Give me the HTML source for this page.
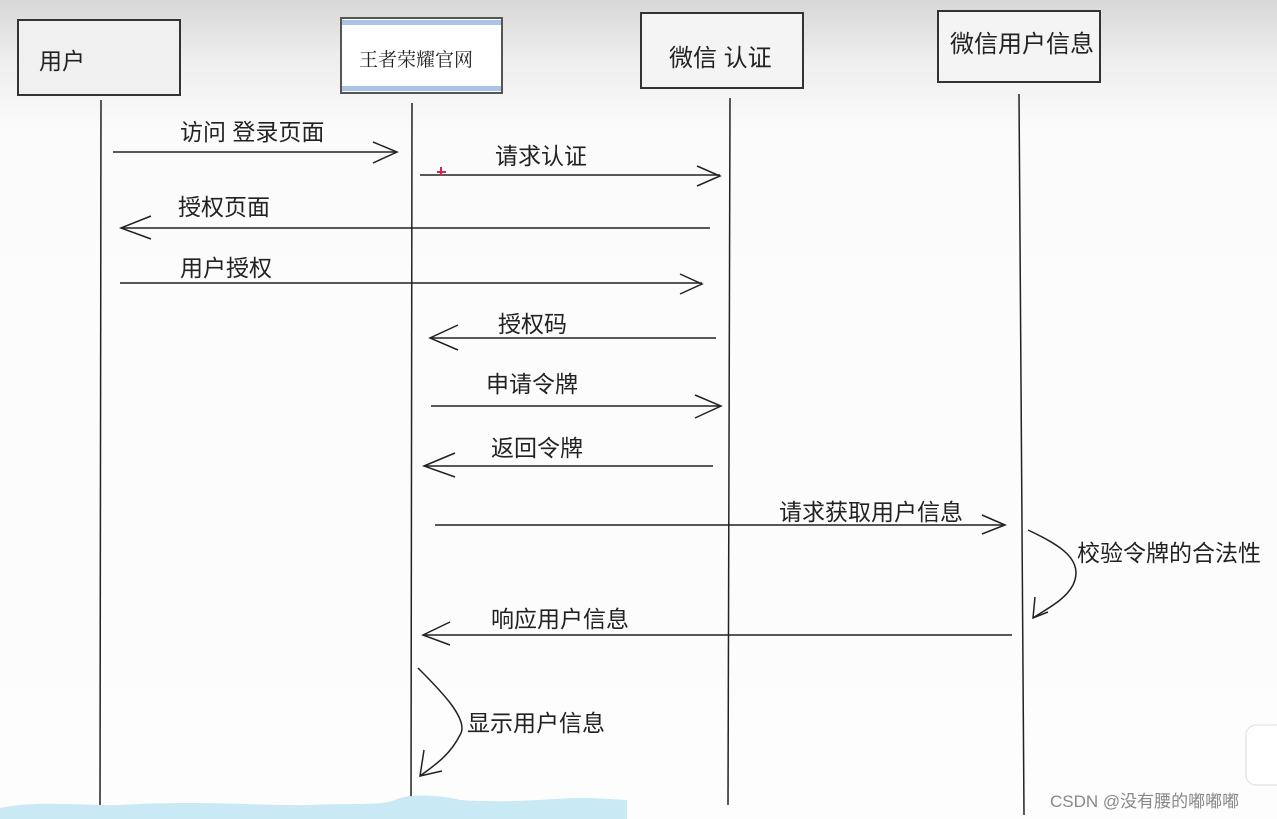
<!DOCTYPE html>
<html><head><meta charset="utf-8"><style>
html,body{margin:0;padding:0;}
body{width:1277px;height:819px;overflow:hidden;background:linear-gradient(#d6d7d6 0px,#eeeeee 60px,#fbfbfb 130px,#fdfdfd 819px);}
svg{position:absolute;left:0;top:0;}
text{font-family:"Liberation Sans","Noto Sans CJK SC",sans-serif;fill:#222;}
</style></head><body>
<svg width="1277" height="819" viewBox="0 0 1277 819">
<g stroke="#333" stroke-width="2" fill="none">
<rect x="18" y="20" width="162" height="75" fill="#f0f0f0"/>
<rect x="641" y="13" width="162" height="75" fill="#f4f4f4"/>
<rect x="938" y="11" width="162" height="71" fill="#f4f4f4"/>
</g>
<rect x="341" y="18" width="161" height="75" fill="#fff" stroke="#555" stroke-width="2"/>
<rect x="342" y="20" width="159" height="5" fill="#a9c2e6"/>
<rect x="342" y="86" width="159" height="5" fill="#a9c2e6"/>
<text x="39" y="69" font-size="23">用户</text>
<text x="359" y="66" font-size="19" style="font-family:'Noto Serif CJK SC',serif">王者荣耀官网</text>
<text x="669" y="66" font-size="24">微信 认证</text>
<text x="950" y="52" font-size="24">微信用户信息</text>
<g stroke="#222" stroke-width="1.5" fill="none">
<line x1="101" y1="100" x2="100" y2="808"/>
<line x1="412" y1="103" x2="411" y2="808"/>
<line x1="730" y1="98" x2="728" y2="805"/>
<line x1="1019" y1="94" x2="1024" y2="815"/>
<line x1="113" y1="152" x2="397" y2="152"/><polyline points="373,142 397,152 373,163"/>
<line x1="420" y1="175" x2="720" y2="175"/><polyline points="697,166 720,176 697,186"/>
<line x1="710" y1="228" x2="121" y2="228"/><polyline points="151,216 121,228 151,239"/>
<line x1="120" y1="283" x2="702" y2="283"/><polyline points="680,274 702,284 680,294"/>
<line x1="716" y1="338" x2="430" y2="338"/><polyline points="458,325 430,338 458,350"/>
<line x1="431" y1="406" x2="721" y2="406"/><polyline points="695,395 721,406 695,418"/>
<line x1="713" y1="466" x2="424" y2="466"/><polyline points="455,453 424,466 455,477"/>
<line x1="435" y1="525" x2="1005" y2="525"/><polyline points="982,515 1005,525 982,534"/>
<line x1="1012" y1="635" x2="423" y2="635"/><polyline points="450,622 423,635 450,645"/>
<path d="M1028,530 C1060,545 1085,560 1073,585 C1065,600 1048,608 1033,618"/>
<polyline points="1035,597 1033,618 1048,612"/>
<path d="M418,668 C440,690 470,720 460,735 C450,755 435,765 420,776"/>
<polyline points="424,750 420,776 442,771"/>
</g>
<path d="M441,167 v9 M437,172 h9" stroke="#d2264a" stroke-width="2"/>
<g font-size="23">
<text x="180" y="140">访问 登录页面</text>
<text x="495" y="164">请求认证</text>
<text x="178" y="215">授权页面</text>
<text x="180" y="276">用户授权</text>
<text x="498" y="332">授权码</text>
<text x="486" y="392">申请令牌</text>
<text x="491" y="456">返回令牌</text>
<text x="779" y="520">请求获取用户信息</text>
<text x="1077" y="561">校验令牌的合法性</text>
<text x="491" y="627">响应用户信息</text>
<text x="467" y="731">显示用户信息</text>
</g>
<path d="M0,808 C40,800 80,806 120,805 C200,800 260,806 310,805 C350,803 380,806 395,800 C410,793 440,795 460,800 C520,804 560,797 590,798 L627,800 L627,819 L0,819 Z" fill="#c9e9f5"/>
<text x="1050" y="807" font-size="17" style="fill:#888">CSDN @没有腰的嘟嘟嘟</text>
<rect x="1246" y="725" width="40" height="60" rx="10" fill="#fff" stroke="#ddd"/>
</svg>
</body></html>
